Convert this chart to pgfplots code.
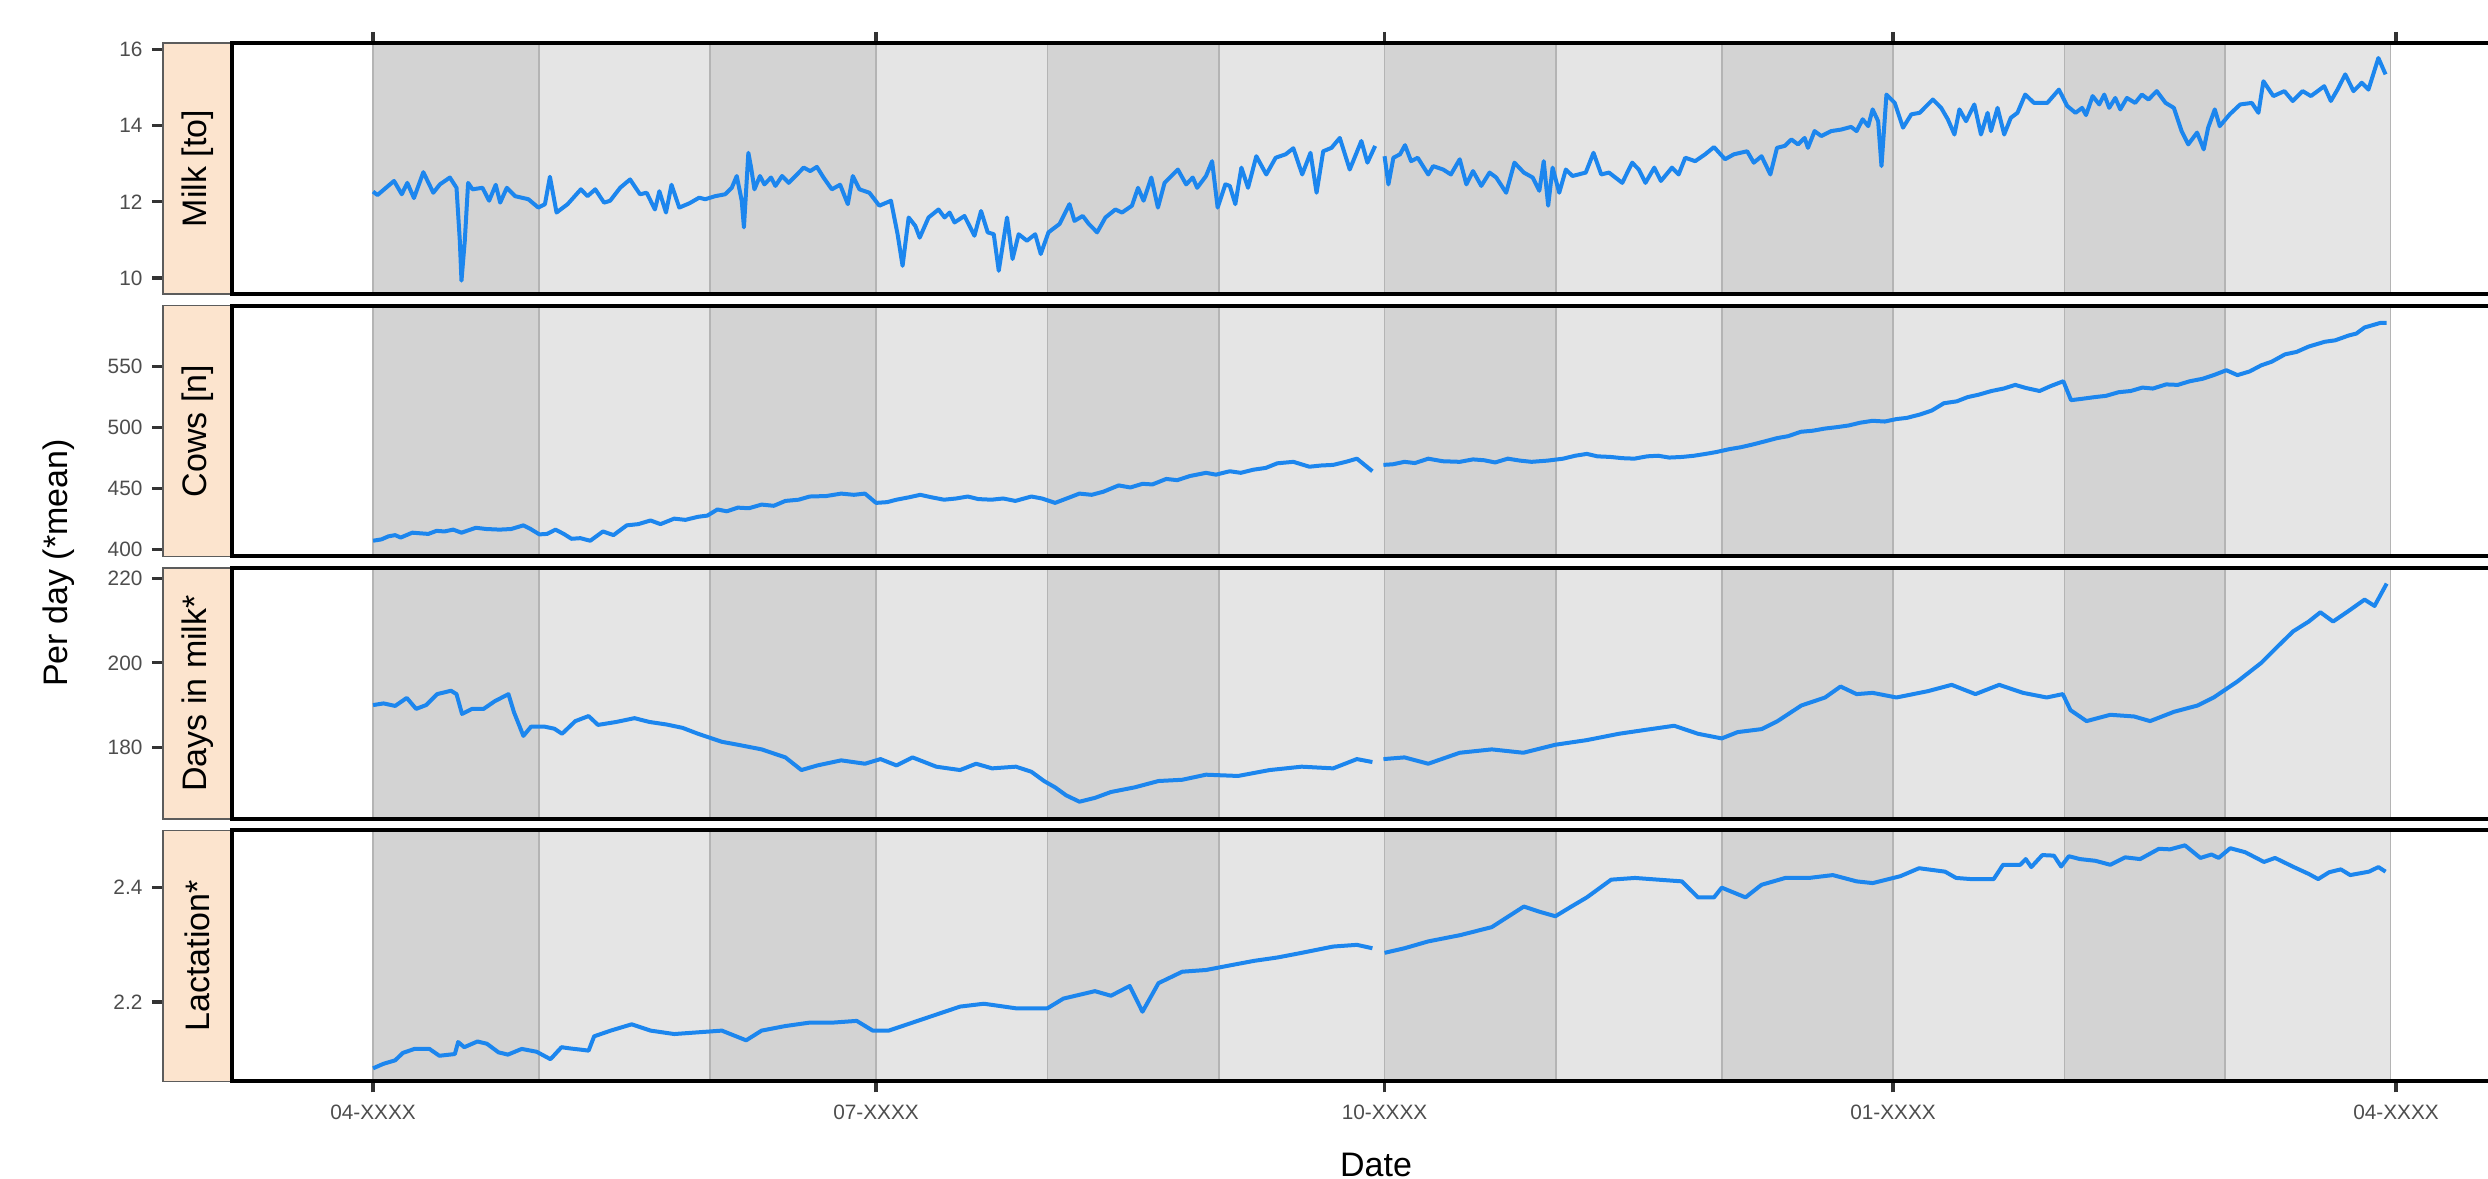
\documentclass[border=0pt]{standalone}
\usepackage{pgfplots}
\pgfplotsset{compat=1.18}
\usepackage{fontspec}
\setmainfont{Liberation Sans}
\definecolor{bandD}{RGB}{211,211,211}
\definecolor{bandL}{RGB}{229,229,229}
\definecolor{bandline}{RGB}{180,180,180}
\definecolor{stripfill}{RGB}{252,228,206}
\definecolor{linecol}{RGB}{28,134,238}
\definecolor{ticklab}{RGB}{77,77,77}
\definecolor{tickcol}{RGB}{51,51,51}
\newcommand{\bandrect}[3]{\fill[#3] ({axis cs:#1,0}|-{rel axis cs:0,0}) rectangle ({axis cs:#2,0}|-{rel axis cs:0,1});}
\newcommand{\bandln}[1]{\draw[bandline, line width=0.4pt] ({axis cs:#1,0}|-{rel axis cs:0,0}) -- ({axis cs:#1,0}|-{rel axis cs:0,1});}
\newcommand{\monthbands}{%
\bandrect{0}{30}{bandD}\bandrect{30}{61}{bandL}\bandrect{61}{91}{bandD}\bandrect{91}{122}{bandL}%
\bandrect{122}{153}{bandD}\bandrect{153}{183}{bandL}\bandrect{183}{214}{bandD}\bandrect{214}{244}{bandL}%
\bandrect{244}{275}{bandD}\bandrect{275}{306}{bandL}\bandrect{306}{335}{bandD}\bandrect{335}{365}{bandL}%
\bandln{0}\bandln{30}\bandln{61}\bandln{91}\bandln{122}\bandln{153}\bandln{183}\bandln{214}\bandln{244}\bandln{275}\bandln{306}\bandln{335}\bandln{365}}
\newcommand{\frameandstrip}[1]{%
\draw[tickcol!80!white, line width=0.35pt, fill=stripfill] (rel axis cs:0,0) rectangle (rel axis cs:0.02956,1);
\draw[black, line width=1pt] (rel axis cs:1.01,1) -- (rel axis cs:0.02956,1) -- (rel axis cs:0.02956,0) -- (rel axis cs:1.01,0);
\node[rotate=90, font=\fontsize{8.5}{10}\selectfont, inner sep=0pt] at (rel axis cs:0.01478,0.5) {#1};}
\pgfplotsset{
  panel/.style={
    scale only axis, width=584.25pt, height=62.75pt, anchor=south west,
    xmin=-38, xmax=384.8, clip=false,
    axis line style={draw=none},
    tick align=outside, major tick length=2.75pt,
    tick style={color=tickcol, line width=0.8pt},
    ytick pos=lower,
    /pgf/number format/assume math mode=true,
    yticklabel style={font=\fontsize{5.2}{6}\selectfont, text=ticklab, inner sep=0pt, xshift=-2.2pt},
    xticklabel style={font=\fontsize{5.2}{6}\selectfont, text=ticklab, inner sep=0pt, yshift=-3pt},
    xtick={0,91,183,275,366},
    unbounded coords=jump,
  },
  dataline/.style={linecol, line width=1pt, line join=round}
}
\begin{document}
\begin{tikzpicture}
\useasboundingbox (0,0) rectangle (622pt,294.75pt);
% Panel 1: Milk
\begin{axis}[panel, at={(40.75pt,221.25pt)}, ymin=9.58, ymax=16.175, ytick={10,12,14,16},
  xtick pos=upper, xticklabels={}]
\monthbands
\addplot[dataline] table {
0 12.27
0.8 12.18
3.8 12.55
5.2 12.20
6.2 12.50
7.4 12.10
9.1 12.78
10.9 12.24
12.1 12.46
13.9 12.64
15.1 12.37
15.7 10.98
16.0 9.93
16.6 10.98
17.2 12.50
18.0 12.33
19.8 12.37
21.0 12.03
22.2 12.45
23.0 11.98
24.2 12.37
25.7 12.15
28.1 12.07
29.9 11.85
31.1 11.94
32.0 12.66
33.2 11.72
35.2 11.94
37.6 12.33
38.8 12.15
40.2 12.33
41.8 11.98
42.9 12.03
44.7 12.37
46.5 12.59
48.3 12.20
49.5 12.24
51.0 11.80
51.8 12.28
53.0 11.72
54.0 12.45
55.4 11.85
57.2 11.96
59.0 12.11
60.1 12.07
61.9 12.15
63.7 12.20
64.9 12.37
65.8 12.68
66.7 12.03
67.1 11.33
67.9 13.29
68.4 12.90
69.0 12.33
70.0 12.68
70.8 12.46
72.0 12.64
72.8 12.42
74.0 12.68
75.2 12.50
76.7 12.72
77.9 12.90
79.1 12.81
80.3 12.92
81.5 12.64
83.0 12.33
84.5 12.45
85.9 11.94
86.8 12.68
88.0 12.33
89.8 12.24
91.6 11.90
93.7 12.03
94.9 11.15
95.8 10.32
96.9 11.59
98.1 11.37
98.9 11.06
100.5 11.59
102.3 11.80
103.4 11.59
104.3 11.72
105.2 11.46
107.0 11.63
108.8 11.11
110.0 11.76
111.2 11.20
112.3 11.15
113.2 10.19
114.7 11.59
115.7 10.50
116.8 11.15
118.3 10.98
119.8 11.15
120.8 10.63
122.2 11.20
124.2 11.42
126.0 11.94
126.9 11.50
128.4 11.63
129.5 11.42
131.0 11.20
132.5 11.59
134.3 11.80
135.5 11.72
137.3 11.90
138.4 12.37
139.4 12.03
140.8 12.64
142.0 11.85
143.2 12.50
145.6 12.85
147.1 12.46
148.3 12.64
149.1 12.37
150.7 12.68
151.8 13.07
152.8 11.85
154.2 12.46
155.0 12.42
156.0 11.94
157.1 12.90
158.3 12.37
159.8 13.20
161.6 12.72
163.3 13.16
165.1 13.25
166.5 13.41
168.1 12.72
169.6 13.29
170.7 12.24
171.9 13.33
173.4 13.42
174.9 13.68
176.7 12.85
178.8 13.60
179.9 13.03
181.3 13.47
182.2 nan
183.0 13.20
183.7 12.46
184.6 13.16
185.8 13.25
186.7 13.49
187.8 13.07
189.0 13.16
190.9 12.72
191.8 12.94
193.6 12.85
195.0 12.72
196.6 13.12
197.8 12.46
199.0 12.81
200.5 12.42
202.0 12.77
203.2 12.64
205.0 12.24
206.5 13.03
208.2 12.77
209.8 12.64
211.0 12.29
211.8 13.07
212.6 11.90
213.4 12.90
214.6 12.24
215.8 12.85
217.0 12.68
219.4 12.77
220.8 13.29
222.2 12.72
223.6 12.77
226.0 12.50
227.8 13.03
229.0 12.85
230.2 12.50
231.8 12.90
233.0 12.55
235.0 12.90
236.2 12.72
237.4 13.16
239.2 13.07
241.0 13.25
242.6 13.44
244.6 13.12
246.2 13.25
248.6 13.33
249.8 13.03
251.2 13.20
252.8 12.72
254.0 13.42
255.4 13.47
256.6 13.64
257.8 13.51
259.0 13.68
259.6 13.42
260.8 13.86
262.0 13.73
263.8 13.86
265.6 13.90
267.4 13.97
268.4 13.86
269.5 14.17
270.5 13.99
271.3 14.43
272.3 14.12
272.9 12.94
273.8 14.82
275.3 14.60
276.8 13.95
278.3 14.30
279.8 14.34
282.2 14.69
283.7 14.47
284.9 14.17
286.1 13.77
287.0 14.43
288.2 14.12
289.7 14.56
290.9 13.77
292.1 14.34
292.7 13.86
293.9 14.47
295.1 13.77
296.3 14.21
297.5 14.34
298.9 14.82
300.5 14.60
302.9 14.60
305.0 14.95
306.5 14.52
308.0 14.34
309.2 14.47
309.9 14.28
311.1 14.78
312.3 14.56
313.2 14.82
314.1 14.47
315.2 14.73
316.1 14.43
317.3 14.73
318.8 14.60
320.0 14.82
321.2 14.69
322.7 14.91
324.3 14.60
325.8 14.47
327.2 13.86
328.4 13.51
330.0 13.82
331.2 13.38
332.0 13.95
333.2 14.43
334.1 13.99
335.9 14.30
337.8 14.56
339.9 14.60
341.1 14.34
342.0 15.17
343.8 14.78
345.8 14.91
347.3 14.65
349.1 14.91
350.6 14.78
353.0 15.04
354.2 14.65
355.4 14.95
356.8 15.35
358.3 14.91
359.8 15.13
361.0 14.95
362.8 15.78
364.1 15.35
};
\frameandstrip{Milk [to]}
\end{axis}
% Panel 2: Cows
\begin{axis}[panel, at={(40.75pt,155.625pt)}, ymin=394.5, ymax=600, ytick={400,450,500,550}, xtick=\empty]
\monthbands
\addplot[dataline] table {
0 407.4
1.5 408.5
2.8 411
4.0 412
5.0 410
7.1 414
8.5 413.5
10.0 413
11.5 415.5
12.9 415
14.5 416.5
16.0 414
18.6 418
20.5 417
22.9 416.5
25.0 417
27.2 420
28.5 417
30.1 412.6
31.5 413
33.0 416.5
34.5 413
35.9 409
37.5 409.5
39.3 407.4
41.6 415
43.5 412
45.9 420
48.0 421
50.2 424
52.0 421
54.5 425.5
56.5 424.5
58.8 427
60.5 428
62.3 433
64.0 431.5
66.0 434.5
68.0 434
70.3 437
72.5 436
74.6 440
77.0 441
79.0 443.6
82.0 444
84.7 446
87.0 445
89.0 446
91.0 438.4
93.0 439
94.7 441
97.0 443
99.0 445
101.0 443
103.3 441
105.5 442
107.6 443.6
109.5 441.5
111.9 441
114.0 442
116.2 440
119.1 443.6
121.0 442
123.4 438.4
125.5 442
127.8 446
130.0 445
132.1 447.5
134.9 452.7
137.0 451
139.2 454
141.0 453.5
143.5 458
145.5 457
147.8 460.4
150.7 463
152.5 461.5
155.0 464.3
157.0 463
159.3 465.6
161.5 467
163.6 470.8
166.5 472
169.4 468
171.5 469
173.7 469.5
176.0 472
178.0 474.6
180.8 464.3
182.0 nan
182.8 469.5
184.5 470
186.6 472
188.5 471
190.9 474.6
193.5 472.5
196.6 472
199.0 474
201.0 473.3
203.0 471.5
205.3 474.6
207.5 473
209.6 472
212.5 473
215.3 474.6
217.5 477
219.6 478.5
221.5 476.5
223.9 476
226.0 475
228.2 474.6
230.5 476.5
232.5 477
234.5 475.5
236.8 476
239.0 477
241.1 478.5
243.0 480
245.4 482.4
247.5 484
249.7 486.3
252.0 489
254.0 491.4
256.0 493
258.3 496.6
260.5 497.5
262.6 499.2
265.0 500.5
267.0 501.8
269.0 504
271.3 505.6
273.5 505
275.6 507
277.5 508
279.9 510.8
282.0 514
284.2 520
286.5 521.5
288.5 525
290.5 527
292.8 530
295.0 532
297.1 535
299.0 532.5
301.5 530
303.5 534
305.8 538
307.2 522.5
309.0 523.5
311.5 525
313.5 526
315.8 529
318.0 530
320.1 532.8
322.0 532
324.4 535.4
326.5 535
328.7 538
331.0 540
333.0 543
335.3 547
337.3 543
339.5 546
341.6 551
343.5 554
345.9 560
348.0 562
350.2 566.4
353.1 570.3
355.0 571.5
357.4 575.4
358.8 577
360.3 582
363.2 585.8
364.3 585.8
};
\frameandstrip{Cows [n]}
\end{axis}
% Panel 3: Days in milk
\begin{axis}[panel, at={(40.75pt,90pt)}, ymin=163, ymax=222.5, ytick={180,200,220}, xtick=\empty]
\monthbands
\addplot[dataline] table {
0 190.0
1.9 190.4
4.0 189.8
6.1 191.7
7.8 189.1
9.6 190.0
11.6 192.6
14.1 193.4
15.1 192.6
16.1 187.9
17.9 189.1
20.0 189.1
22.0 190.9
24.5 192.6
25.5 188.3
27.2 182.7
28.6 184.9
31.0 184.9
32.8 184.4
34.2 183.2
36.6 186.2
39.0 187.4
40.7 185.3
44.0 186.0
47.3 186.9
50.0 186.0
53.1 185.4
56.0 184.6
58.8 183.2
63.1 181.3
66.0 180.6
70.3 179.5
74.6 177.6
77.5 174.6
80.4 175.7
84.7 176.9
89.0 176.1
91.8 177.2
94.7 175.7
97.6 177.6
101.9 175.4
106.2 174.6
109.1 176.1
112.0 175.0
116.3 175.4
119.1 174.2
121.4 172.0
123.4 170.5
125.4 168.6
127.8 167.1
130.6 168.0
133.5 169.4
137.8 170.5
142.1 172.0
146.4 172.3
150.7 173.5
156.5 173.2
162.2 174.6
168.0 175.4
173.7 175.0
178.0 177.2
180.8 176.5
182.0 nan
182.8 177.2
186.6 177.6
190.9 176.1
196.6 178.7
202.4 179.5
208.1 178.7
213.9 180.6
219.6 181.7
225.4 183.2
231.1 184.3
235.4 185.1
239.7 183.2
244.0 182.1
246.9 183.6
251.2 184.3
254.1 186.2
258.4 189.9
262.7 191.8
265.5 194.4
268.4 192.6
271.3 192.9
275.6 191.8
281.3 193.3
285.6 194.8
289.9 192.6
294.2 194.8
298.5 192.9
302.8 191.8
305.7 192.6
307.1 188.8
310.0 186.2
314.3 187.7
318.6 187.3
321.5 186.2
325.8 188.4
330.1 189.9
333.0 191.8
337.3 195.6
341.6 200.0
344.5 203.8
347.4 207.5
350.2 209.8
352.3 212.0
354.6 209.8
357.5 212.4
360.3 215.0
362.1 213.5
364.3 218.8
};
\frameandstrip{Days in milk*}
\end{axis}
% Panel 4: Lactation
\begin{axis}[panel, at={(40.75pt,24.375pt)}, ymin=2.061, ymax=2.5, ytick={2.2,2.4},
  yticklabel style={/pgf/number format/fixed, /pgf/number format/precision=1},
  xtick pos=lower, xticklabels={04-XXXX,07-XXXX,10-XXXX,01-XXXX,04-XXXX}]
\monthbands
\addplot[dataline] table {
0 2.084
1.9 2.092
4.0 2.098
5.4 2.111
7.5 2.118
10.2 2.118
12.0 2.106
14.8 2.109
15.4 2.130
16.5 2.121
18.9 2.131
20.6 2.127
22.7 2.112
24.4 2.108
26.9 2.118
29.6 2.113
32.1 2.100
34.1 2.121
35.5 2.119
37.3 2.117
39.0 2.115
40.0 2.140
43.0 2.150
46.8 2.161
50.2 2.150
54.5 2.144
58.8 2.147
63.1 2.150
67.5 2.133
70.3 2.150
74.6 2.158
79.0 2.164
83.2 2.164
87.5 2.167
90.4 2.150
93.3 2.150
97.6 2.164
101.9 2.178
106.2 2.192
110.5 2.197
116.3 2.189
122.0 2.189
124.9 2.206
130.6 2.219
133.5 2.211
136.9 2.228
139.2 2.183
142.1 2.233
146.4 2.253
150.7 2.256
155.0 2.264
159.4 2.272
163.7 2.278
168.0 2.286
173.7 2.297
178.0 2.300
180.8 2.294
182.0 nan
183.0 2.286
186.6 2.294
190.9 2.306
196.7 2.317
202.4 2.331
208.2 2.367
211.0 2.358
213.9 2.350
216.8 2.367
219.6 2.383
224.0 2.414
228.3 2.417
232.5 2.414
236.8 2.411
239.7 2.383
242.6 2.383
244.0 2.400
248.3 2.383
251.2 2.405
255.5 2.417
259.8 2.417
264.1 2.422
268.4 2.411
271.3 2.408
276.3 2.420
279.7 2.434
284.4 2.428
286.4 2.417
289.1 2.415
293.2 2.415
294.9 2.440
298.0 2.440
299.0 2.450
300.0 2.436
302.0 2.457
304.1 2.456
305.4 2.437
306.8 2.455
308.8 2.450
311.6 2.447
314.3 2.440
317.0 2.453
319.7 2.450
323.1 2.468
325.1 2.467
327.8 2.474
330.6 2.452
332.6 2.458
333.9 2.452
336.0 2.469
338.7 2.462
342.1 2.445
344.1 2.452
347.5 2.436
350.2 2.424
351.9 2.415
353.9 2.427
356.0 2.432
357.7 2.422
361.1 2.428
362.8 2.436
364.1 2.428
};
\frameandstrip{Lactation*}
\end{axis}
\node[rotate=90, font=\fontsize{8.5}{10}\selectfont, inner sep=0pt] at (14.75pt,154pt) {Per day (*mean)};
\node[anchor=base, font=\fontsize{8.5}{10}\selectfont, inner sep=0pt] at (344pt,0.6pt) {Date};
\end{tikzpicture}
\end{document}
